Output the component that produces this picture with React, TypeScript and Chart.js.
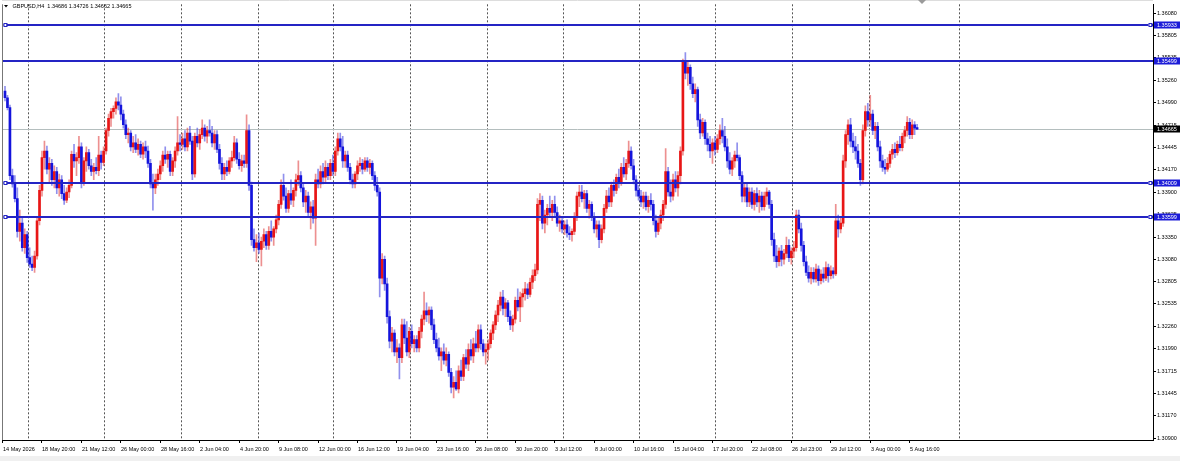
import React, { useEffect, useRef } from "react";
import { Chart, registerables } from "chart.js";
Chart.register(...registerables);

// ---- DATA (H4 candles, GBPUSD) ----
const opens = [
1.3513,1.3505,1.3493,1.3410,1.3400,1.3382,1.3342,1.3352,1.3322,1.3338,
1.3310,1.3302,1.3298,1.3312,1.3355,1.3392,1.3432,1.3440,1.3418,1.3425,
1.3405,1.3415,1.3395,1.3405,1.3388,1.3380,1.3390,1.3398,1.3436,1.3428,
1.3432,1.3445,1.3402,1.3428,1.3438,1.3422,1.3415,1.3420,1.3416,1.3435,
1.3426,1.3440,1.3465,1.3480,1.3488,1.3492,1.3500,1.3496,1.3485,1.3472,
1.3460,1.3462,1.3445,1.3450,1.3442,1.3448,1.3436,1.3445,1.3440,1.3425,
1.3400,1.3395,1.3405,1.3412,1.3422,1.3435,1.3430,1.3436,1.3415,1.3428,
1.3440,1.3450,1.3448,1.3455,1.3445,1.3462,1.3452,1.3412,1.3458,1.3450,
1.3460,1.3468,1.3458,1.3465,1.3462,1.3450,1.3460,1.3442,1.3425,1.3412,
1.3420,1.3415,1.3428,1.3432,1.3450,1.3430,1.3422,1.3428,1.3425,1.3465,
1.3398,1.3332,1.3322,1.3328,1.3320,1.3330,1.3338,1.3325,1.3342,1.3335,
1.3345,1.3356,1.3375,1.3398,1.3385,1.3370,1.3388,1.3380,1.3392,1.3405,
1.3410,1.3395,1.3378,1.3385,1.3365,1.3372,1.3358,1.3405,1.3400,1.3415,
1.3408,1.3420,1.3410,1.3425,1.3415,1.3440,1.3455,1.3445,1.3428,1.3435,
1.3420,1.3405,1.3400,1.3412,1.3422,1.3425,1.3418,1.3428,1.3420,1.3425,
1.3410,1.3398,1.3390,1.3285,1.3308,1.3278,1.3238,1.3208,1.3218,1.3195,
1.3200,1.3188,1.3228,1.3212,1.3195,1.3220,1.3205,1.3210,1.3200,1.3220,
1.3235,1.3245,1.3240,1.3246,1.3228,1.3210,1.3200,1.3190,1.3195,1.3185,
1.3192,1.3170,1.3152,1.3158,1.3150,1.3172,1.3165,1.3188,1.3180,1.3198,
1.3190,1.3205,1.3200,1.3222,1.3205,1.3195,1.3198,1.3205,1.3218,1.3228,
1.3240,1.3252,1.3262,1.3248,1.3255,1.3238,1.3228,1.3235,1.3258,1.3250,
1.3262,1.3266,1.3272,1.3265,1.3280,1.3288,1.3295,1.3375,1.3380,1.3352,
1.3362,1.3370,1.3365,1.3375,1.3365,1.3352,1.3355,1.3345,1.3350,1.3340,
1.3338,1.3342,1.3360,1.3385,1.3390,1.3382,1.3388,1.3370,1.3375,1.3360,
1.3345,1.3350,1.3332,1.3345,1.3370,1.3385,1.3378,1.3398,1.3392,1.3408,
1.3402,1.3420,1.3412,1.3425,1.3440,1.3422,1.3405,1.3392,1.3385,1.3378,
1.3385,1.3372,1.3380,1.3375,1.3355,1.3342,1.3352,1.3362,1.3375,1.3415,
1.3390,1.3385,1.3405,1.3395,1.3410,1.3440,1.3548,1.3535,1.3542,1.3522,
1.3510,1.3515,1.3478,1.3462,1.3475,1.3455,1.3448,1.3440,1.3450,1.3442,
1.3455,1.3465,1.3458,1.3445,1.3428,1.3418,1.3428,1.3435,1.3432,1.3410,
1.3385,1.3395,1.3378,1.3390,1.3375,1.3388,1.3378,1.3385,1.3372,1.3385,
1.3390,1.3375,1.3332,1.3312,1.3305,1.3318,1.3308,1.3315,1.3325,1.3310,
1.3318,1.3322,1.3362,1.3345,1.3325,1.3305,1.3292,1.3285,1.3292,1.3284,
1.3296,1.3282,1.3290,1.3285,1.3298,1.3288,1.3294,1.3290,1.3355,1.3345,
1.3352,1.3428,1.3460,1.3472,1.3452,1.3445,1.3440,1.3425,1.3405,1.3465,
1.3488,1.3478,1.3485,1.3465,1.3470,1.3445,1.3428,1.3420,1.3418,1.3425,
1.3436,1.3442,1.3438,1.3448,1.3444,1.3458,1.3465,1.3475,1.3460,1.3472,
1.34686,
];
const highs = [
1.3519,1.3508,1.3496,1.3418,1.3410,1.3395,1.3368,1.3360,1.3345,1.3342,
1.3322,1.3312,1.3318,1.3360,1.3398,1.3440,1.3452,1.3446,1.3432,1.3430,
1.3422,1.3420,1.3412,1.3410,1.3398,1.3395,1.3405,1.3440,1.3448,1.3438,
1.3458,1.3450,1.3432,1.3445,1.3442,1.3430,1.3425,1.3432,1.3458,1.3440,
1.3445,1.3468,1.3485,1.3492,1.3495,1.3505,1.3510,1.3506,1.3490,1.3478,
1.3468,1.3465,1.3458,1.3460,1.3455,1.3452,1.3450,1.3452,1.3446,1.3430,
1.3412,1.3412,1.3418,1.3428,1.3440,1.3445,1.3440,1.3440,1.3432,1.3445,
1.3482,1.3460,1.3462,1.3465,1.3468,1.3470,1.3458,1.3462,1.3468,1.3466,
1.3478,1.3472,1.3470,1.3478,1.3470,1.3465,1.3465,1.3448,1.3432,1.3425,
1.3428,1.3432,1.3440,1.3458,1.3455,1.3438,1.3435,1.3435,1.3484,1.3472,
1.3402,1.3345,1.3338,1.3340,1.3335,1.3345,1.3342,1.3348,1.3355,1.3348,
1.3362,1.3380,1.3405,1.3412,1.3395,1.3392,1.3405,1.3395,1.3412,1.3428,
1.3415,1.3400,1.3392,1.3390,1.3378,1.3380,1.3412,1.3418,1.3422,1.3425,
1.3428,1.3425,1.3430,1.3435,1.3445,1.3462,1.3462,1.3458,1.3440,1.3440,
1.3425,1.3412,1.3415,1.3428,1.3432,1.3430,1.3432,1.3432,1.3430,1.3428,
1.3415,1.3408,1.3395,1.3315,1.3312,1.3285,1.3245,1.3225,1.3222,1.3210,
1.3205,1.3235,1.3235,1.3232,1.3225,1.3228,1.3215,1.3215,1.3225,1.3240,
1.3268,1.3255,1.3250,1.3250,1.3235,1.3218,1.3212,1.3200,1.3205,1.3200,
1.3195,1.3175,1.3165,1.3172,1.3178,1.3185,1.3192,1.3198,1.3205,1.3210,
1.3212,1.3220,1.3228,1.3228,1.3210,1.3205,1.3210,1.3222,1.3232,1.3245,
1.3258,1.3268,1.3270,1.3260,1.3258,1.3245,1.3240,1.3262,1.3272,1.3268,
1.3272,1.3280,1.3278,1.3285,1.3295,1.3302,1.3382,1.3388,1.3385,1.3368,
1.3375,1.3385,1.3380,1.3385,1.3372,1.3362,1.3360,1.3355,1.3356,1.3348,
1.3345,1.3365,1.3390,1.3398,1.3398,1.3392,1.3392,1.3380,1.3378,1.3365,
1.3355,1.3355,1.3350,1.3375,1.3392,1.3395,1.3402,1.3405,1.3412,1.3418,
1.3425,1.3432,1.3430,1.3452,1.3445,1.3430,1.3410,1.3398,1.3392,1.3390,
1.3390,1.3385,1.3388,1.3380,1.3362,1.3358,1.3368,1.3380,1.3443,1.3420,
1.3405,1.3412,1.3415,1.3415,1.3445,1.3552,1.3560,1.3548,1.3545,1.3530,
1.3522,1.3518,1.3485,1.3480,1.3478,1.3462,1.3458,1.3455,1.3458,1.3460,
1.3472,1.3480,1.3470,1.3455,1.3438,1.3432,1.3440,1.3450,1.3435,1.3415,
1.3400,1.3400,1.3395,1.3395,1.3392,1.3395,1.3392,1.3390,1.3390,1.3395,
1.3392,1.3380,1.3340,1.3325,1.3322,1.3325,1.3320,1.3335,1.3332,1.3322,
1.3330,1.3368,1.3368,1.3352,1.3330,1.3312,1.3300,1.3298,1.3298,1.3302,
1.3300,1.3295,1.3298,1.3305,1.3302,1.3300,1.3298,1.3375,1.3362,1.3360,
1.3435,1.3465,1.3478,1.3480,1.3462,1.3458,1.3448,1.3430,1.3472,1.3495,
1.3498,1.3508,1.3490,1.3475,1.3475,1.3452,1.3435,1.3430,1.3432,1.3440,
1.3448,1.3450,1.3452,1.3458,1.3462,1.3470,1.3482,1.3480,1.3478,1.3476,
1.34726,
];
const lows = [
1.3501,1.3490,1.3405,1.3396,1.3378,1.3335,1.3330,1.3318,1.3315,1.3304,
1.3298,1.3294,1.3292,1.3308,1.3350,1.3385,1.3418,1.3412,1.3402,1.3398,
1.3395,1.3388,1.3385,1.3382,1.3375,1.3377,1.3383,1.3395,1.3420,1.3410,
1.3425,1.3395,1.3398,1.3415,1.3418,1.3410,1.3405,1.3412,1.3410,1.3418,
1.3422,1.3436,1.3458,1.3470,1.3480,1.3485,1.3490,1.3478,1.3468,1.3455,
1.3450,1.3440,1.3438,1.3438,1.3435,1.3432,1.3430,1.3432,1.3420,1.3395,
1.3368,1.3388,1.3398,1.3405,1.3415,1.3425,1.3420,1.3410,1.3410,1.3420,
1.3435,1.3440,1.3442,1.3440,1.3440,1.3448,1.3405,1.3408,1.3445,1.3442,
1.3455,1.3452,1.3450,1.3458,1.3445,1.3442,1.3438,1.3418,1.3405,1.3405,
1.3410,1.3412,1.3420,1.3428,1.3425,1.3418,1.3415,1.3420,1.3420,1.3392,
1.3325,1.3318,1.3305,1.3315,1.3300,1.3322,1.3320,1.3320,1.3330,1.3325,
1.3340,1.3350,1.3370,1.3380,1.3365,1.3365,1.3375,1.3372,1.3385,1.3398,
1.3390,1.3372,1.3365,1.3360,1.3345,1.3352,1.3325,1.3395,1.3395,1.3400,
1.3402,1.3405,1.3405,1.3410,1.3410,1.3435,1.3440,1.3420,1.3420,1.3415,
1.3400,1.3395,1.3395,1.3405,1.3415,1.3412,1.3415,1.3415,1.3412,1.3405,
1.3392,1.3385,1.3262,1.3278,1.3270,1.3230,1.3200,1.3195,1.3190,1.3182,
1.3162,1.3182,1.3205,1.3190,1.3188,1.3200,1.3195,1.3195,1.3195,1.3212,
1.3228,1.3232,1.3230,1.3222,1.3205,1.3195,1.3185,1.3172,1.3180,1.3178,
1.3165,1.3145,1.3139,1.3148,1.3145,1.3160,1.3160,1.3175,1.3172,1.3185,
1.3182,1.3195,1.3195,1.3198,1.3190,1.3180,1.3185,1.3200,1.3210,1.3222,
1.3232,1.3245,1.3240,1.3238,1.3232,1.3222,1.3220,1.3230,1.3245,1.3232,
1.3250,1.3258,1.3260,1.3262,1.3272,1.3282,1.3290,1.3355,1.3345,1.3340,
1.3350,1.3360,1.3355,1.3360,1.3348,1.3342,1.3340,1.3338,1.3335,1.3332,
1.3330,1.3338,1.3355,1.3372,1.3378,1.3370,1.3365,1.3358,1.3355,1.3340,
1.3335,1.3322,1.3328,1.3340,1.3365,1.3372,1.3372,1.3385,1.3388,1.3395,
1.3398,1.3408,1.3405,1.3420,1.3418,1.3400,1.3385,1.3380,1.3372,1.3370,
1.3368,1.3365,1.3368,1.3350,1.3335,1.3338,1.3345,1.3355,1.3370,1.3385,
1.3378,1.3380,1.3390,1.3385,1.3400,1.3435,1.3528,1.3520,1.3515,1.3505,
1.3500,1.3470,1.3455,1.3458,1.3448,1.3440,1.3432,1.3425,1.3435,1.3438,
1.3448,1.3450,1.3440,1.3420,1.3412,1.3410,1.3420,1.3428,1.3405,1.3378,
1.3378,1.3372,1.3372,1.3370,1.3368,1.3372,1.3365,1.3368,1.3368,1.3375,
1.3370,1.3325,1.3305,1.3298,1.3300,1.3300,1.3302,1.3310,1.3305,1.3302,
1.3310,1.3318,1.3340,1.3318,1.3300,1.3288,1.3280,1.3278,1.3280,1.3280,
1.3276,1.3278,1.3280,1.3282,1.3280,1.3284,1.3285,1.3288,1.3335,1.3340,
1.3348,1.3420,1.3448,1.3445,1.3438,1.3430,1.3420,1.3398,1.3400,1.3458,
1.3470,1.3470,1.3460,1.3455,1.3440,1.3420,1.3415,1.3412,1.3415,1.3420,
1.3430,1.3432,1.3435,1.3440,1.3440,1.3450,1.3458,1.3455,1.3455,1.3460,
1.34662,
];
const closes = [
1.3505,1.3493,1.3410,1.3400,1.3382,1.3342,1.3352,1.3322,1.3338,1.3310,
1.3302,1.3298,1.3312,1.3355,1.3392,1.3432,1.3440,1.3418,1.3425,1.3405,
1.3415,1.3395,1.3405,1.3388,1.3380,1.3390,1.3398,1.3436,1.3428,1.3432,
1.3445,1.3402,1.3428,1.3438,1.3422,1.3415,1.3420,1.3416,1.3435,1.3426,
1.3440,1.3465,1.3480,1.3488,1.3492,1.3500,1.3496,1.3485,1.3472,1.3460,
1.3462,1.3445,1.3450,1.3442,1.3448,1.3436,1.3445,1.3440,1.3425,1.3400,
1.3395,1.3405,1.3412,1.3422,1.3435,1.3430,1.3436,1.3415,1.3428,1.3440,
1.3450,1.3448,1.3455,1.3445,1.3462,1.3452,1.3412,1.3458,1.3450,1.3460,
1.3468,1.3458,1.3465,1.3462,1.3450,1.3460,1.3442,1.3425,1.3412,1.3420,
1.3415,1.3428,1.3432,1.3450,1.3430,1.3422,1.3428,1.3425,1.3465,1.3398,
1.3332,1.3322,1.3328,1.3320,1.3330,1.3338,1.3325,1.3342,1.3335,1.3345,
1.3356,1.3375,1.3398,1.3385,1.3370,1.3388,1.3380,1.3392,1.3405,1.3410,
1.3395,1.3378,1.3385,1.3365,1.3372,1.3358,1.3405,1.3400,1.3415,1.3408,
1.3420,1.3410,1.3425,1.3415,1.3440,1.3455,1.3445,1.3428,1.3435,1.3420,
1.3405,1.3400,1.3412,1.3422,1.3425,1.3418,1.3428,1.3420,1.3425,1.3410,
1.3398,1.3390,1.3285,1.3308,1.3278,1.3238,1.3208,1.3218,1.3195,1.3200,
1.3188,1.3228,1.3212,1.3195,1.3220,1.3205,1.3210,1.3200,1.3220,1.3235,
1.3245,1.3240,1.3246,1.3228,1.3210,1.3200,1.3190,1.3195,1.3185,1.3192,
1.3170,1.3152,1.3158,1.3150,1.3172,1.3165,1.3188,1.3180,1.3198,1.3190,
1.3205,1.3200,1.3222,1.3205,1.3195,1.3198,1.3205,1.3218,1.3228,1.3240,
1.3252,1.3262,1.3248,1.3255,1.3238,1.3228,1.3235,1.3258,1.3250,1.3262,
1.3266,1.3272,1.3265,1.3280,1.3288,1.3295,1.3375,1.3380,1.3352,1.3362,
1.3370,1.3365,1.3375,1.3365,1.3352,1.3355,1.3345,1.3350,1.3340,1.3338,
1.3342,1.3360,1.3385,1.3390,1.3382,1.3388,1.3370,1.3375,1.3360,1.3345,
1.3350,1.3332,1.3345,1.3370,1.3385,1.3378,1.3398,1.3392,1.3408,1.3402,
1.3420,1.3412,1.3425,1.3440,1.3422,1.3405,1.3392,1.3385,1.3378,1.3385,
1.3372,1.3380,1.3375,1.3355,1.3342,1.3352,1.3362,1.3375,1.3415,1.3390,
1.3385,1.3405,1.3395,1.3410,1.3440,1.3548,1.3535,1.3542,1.3522,1.3510,
1.3515,1.3478,1.3462,1.3475,1.3455,1.3448,1.3440,1.3450,1.3442,1.3455,
1.3465,1.3458,1.3445,1.3428,1.3418,1.3428,1.3435,1.3432,1.3410,1.3385,
1.3395,1.3378,1.3390,1.3375,1.3388,1.3378,1.3385,1.3372,1.3385,1.3390,
1.3375,1.3332,1.3312,1.3305,1.3318,1.3308,1.3315,1.3325,1.3310,1.3318,
1.3322,1.3362,1.3345,1.3325,1.3305,1.3292,1.3285,1.3292,1.3284,1.3296,
1.3282,1.3290,1.3285,1.3298,1.3288,1.3294,1.3290,1.3355,1.3345,1.3352,
1.3428,1.3460,1.3472,1.3452,1.3445,1.3440,1.3425,1.3405,1.3465,1.3488,
1.3478,1.3485,1.3465,1.3470,1.3445,1.3428,1.3420,1.3418,1.3425,1.3436,
1.3442,1.3438,1.3448,1.3444,1.3458,1.3465,1.3475,1.3460,1.3472,1.3468,
1.34665,
];

const timeLabels = [
  "14 May 2026", "18 May 20:00", "21 May 12:00", "26 May 00:00", "28 May 16:00",
  "2 Jun 04:00", "4 Jun 20:00", "9 Jun 08:00", "12 Jun 00:00", "16 Jun 12:00",
  "19 Jun 04:00", "23 Jun 16:00", "26 Jun 08:00", "30 Jun 20:00", "3 Jul 12:00",
  "8 Jul 00:00", "10 Jul 16:00", "15 Jul 04:00", "17 Jul 20:00", "22 Jul 08:00",
  "26 Jul 23:00", "29 Jul 12:00", "3 Aug 00:00", "5 Aug 16:00",
];
const LABEL_EVERY = 16; // bars between time labels
const gridBars = [9.3, 40.2, 71.4, 102.6, 133.1, 164.3, 195.5, 226.4, 257.2, 288, 319.3, 350.5, 387];
const priceTicks = [
  1.3608, 1.35805, 1.35535, 1.3526, 1.3499, 1.34715, 1.34445, 1.3417, 1.339, 1.33625,
  1.3335, 1.3308, 1.32805, 1.32535, 1.3226, 1.3199, 1.31715, 1.31445, 1.3117, 1.309,
];
const levels = [1.35933, 1.35499, 1.34009, 1.33599];
const levelAnchors = [true, false, true, true];
const currentPrice = 1.34665;
const headerText = "GBPUSD,H4  1.34686 1.34726 1.34662 1.34665";

const Y_MIN = 1.30876;
const Y_MAX = 1.36189;
const X_MIN = -1.22;
const X_MAX = 465.7;

const BULL = "#e81616";
const BEAR = "#1414dc";
const BULL_WICK = "rgba(225,70,70,0.6)";
const BEAR_WICK = "rgba(70,70,225,0.6)";
const LEVEL = "#2424c4";
const FONT = "Liberation Sans, Arial, sans-serif";

const mtPlugin = {
  id: "mtDecor",
  beforeDatasetsDraw(chart: any) {
    const { ctx, chartArea: a, scales } = chart;
    const x = scales.x, y = scales.y;
    ctx.save();
    ctx.strokeStyle = "#555";
    ctx.lineWidth = 1;
    ctx.setLineDash([2, 2]);
    for (const g of gridBars) {
      const px = Math.round(x.getPixelForValue(g)) + 0.5;
      ctx.beginPath();
      ctx.moveTo(px, a.top);
      ctx.lineTo(px, a.bottom);
      ctx.stroke();
    }
    ctx.setLineDash([]);
    const py = Math.round(y.getPixelForValue(currentPrice)) + 0.5;
    ctx.strokeStyle = "#b4bebe";
    ctx.beginPath();
    ctx.moveTo(a.left, py);
    ctx.lineTo(a.right, py);
    ctx.stroke();
    ctx.restore();
  },
  afterDatasetsDraw(chart: any) {
    const { ctx, chartArea: a, scales } = chart;
    const y = scales.y;
    ctx.save();
    levels.forEach((lv, k) => {
      const py = Math.round(y.getPixelForValue(lv));
      ctx.strokeStyle = LEVEL;
      ctx.lineWidth = 2;
      ctx.beginPath();
      ctx.moveTo(a.left, py);
      ctx.lineTo(a.right, py);
      ctx.stroke();
      if (levelAnchors[k]) {
        ctx.lineWidth = 1;
        ctx.fillStyle = "#fff";
        for (const ax of [a.left + 1.5, a.right - 4.5]) {
          ctx.fillRect(ax, py - 1.5, 3, 3);
          ctx.strokeRect(ax + 0.5, py - 1.5, 3, 3);
        }
      }
    });
    ctx.restore();
  },
  afterDraw(chart: any) {
    const { ctx, chartArea: a, scales } = chart;
    const x = scales.x, y = scales.y;
    const W = chart.width;
    ctx.save();
    // left border
    ctx.strokeStyle = "#777";
    ctx.lineWidth = 1;
    ctx.beginPath();
    ctx.moveTo(a.left + 0.5, a.top);
    ctx.lineTo(a.left + 0.5, a.bottom);
    ctx.stroke();
    ctx.strokeStyle = "#ddd";
    ctx.beginPath();
    ctx.moveTo(a.left, 0.5);
    ctx.lineTo(a.right, 0.5);
    ctx.stroke();

    // price boxes on the right axis
    ctx.font = `5.5px ${FONT}`;
    ctx.textBaseline = "middle";
    ctx.textAlign = "left";
    const box = (v: number, bg: string) => {
      const py = Math.round(y.getPixelForValue(v));
      ctx.fillStyle = bg;
      ctx.fillRect(a.right + 1, py - 3.5, W - a.right - 1, 7);
      ctx.fillStyle = "#fff";
      ctx.fillText(v.toFixed(5), a.right + 4, py + 0.5);
    };
    levels.forEach((lv) => box(lv, "#1c1cd8"));
    box(currentPrice, "#000");

    // time labels
    ctx.fillStyle = "#000";
    ctx.strokeStyle = "#000";
    timeLabels.forEach((t, k) => {
      const px = Math.round(x.getPixelForValue(k * LABEL_EVERY)) - 2;
      ctx.beginPath();
      ctx.moveTo(px - 0.5, a.bottom);
      ctx.lineTo(px - 0.5, a.bottom + 3);
      ctx.stroke();
      ctx.fillText(t, px, a.bottom + 9);
    });

    // header
    ctx.beginPath();
    ctx.moveTo(4, 5);
    ctx.lineTo(8, 5);
    ctx.lineTo(6, 7.5);
    ctx.closePath();
    ctx.fill();
    ctx.fillText(headerText, 12.5, 6.5);

    // chart shift marker
    ctx.fillStyle = "#9a9a9a";
    ctx.beginPath();
    ctx.moveTo(918, 0);
    ctx.lineTo(926, 0);
    ctx.lineTo(922, 4);
    ctx.closePath();
    ctx.fill();

    // bottom strip
    ctx.fillStyle = "#f0f0f0";
    ctx.fillRect(0, 456, W, chart.height - 456);
    ctx.restore();
  },
};

export default function App() {
  const ref = useRef<HTMLCanvasElement | null>(null);
  useEffect(() => {
    document.body.style.margin = "0";
    if (!ref.current) return;
    const isBull = (i: number) => closes[i] >= opens[i];
    const chart = new Chart(ref.current, {
      type: "bar",
      data: {
        datasets: [
          {
            label: "wicks",
            data: closes.map((_, i) => ({ x: i, y: [lows[i], highs[i]] })) as any,
            backgroundColor: (c: any) => (c.dataIndex !== undefined && isBull(c.dataIndex) ? BULL_WICK : BEAR_WICK),
            barThickness: 1,
            grouped: false,
            order: 2,
            borderWidth: 0,
          } as any,
          {
            label: "bodies",
            data: closes.map((c, i) => ({ x: i, y: [opens[i], c] })) as any,
            backgroundColor: (c: any) => (c.dataIndex !== undefined && isBull(c.dataIndex) ? BULL : BEAR),
            barThickness: 2,
            minBarLength: 1,
            grouped: false,
            order: 1,
            borderWidth: 0,
          } as any,
        ],
      },
      options: {
        responsive: false,
        maintainAspectRatio: false,
        animation: false,
        events: [],
        layout: { padding: { left: 2, top: 3, right: 0, bottom: 0 } },
        plugins: { legend: { display: false }, tooltip: { enabled: false }, title: { display: false } },
        scales: {
          x: {
            type: "linear",
            min: X_MIN,
            max: X_MAX,
            offset: false,
            grid: { display: false, offset: false },
            border: { display: true, color: "#000", width: 1 },
            ticks: { display: false },
            afterFit: (s: any) => { s.height = 21; },
          },
          y: {
            type: "linear",
            position: "right",
            min: Y_MIN,
            max: Y_MAX,
            beginAtZero: false,
            afterBuildTicks: (s: any) => { s.ticks = priceTicks.map((v) => ({ value: v })); },
            ticks: {
              autoSkip: false,
              color: "#000",
              padding: 1,
              crossAlign: "near",
              font: { family: FONT, size: 5.5 },
              callback: (v: any) => Number(v).toFixed(5),
            },
            grid: { drawOnChartArea: false, drawTicks: true, tickLength: 3, color: "#000" },
            border: { display: true, color: "#000", width: 1 },
            afterFit: (s: any) => { s.width = 27; },
          },
        },
      } as any,
      plugins: [mtPlugin],
    });
    return () => chart.destroy();
  }, []);
  return (
    <div style={{ position: "absolute", left: 0, top: 0, width: 1180, height: 461, background: "#fff" }}>
      <canvas ref={ref} width={1180} height={461} style={{ display: "block" }} />
    </div>
  );
}
